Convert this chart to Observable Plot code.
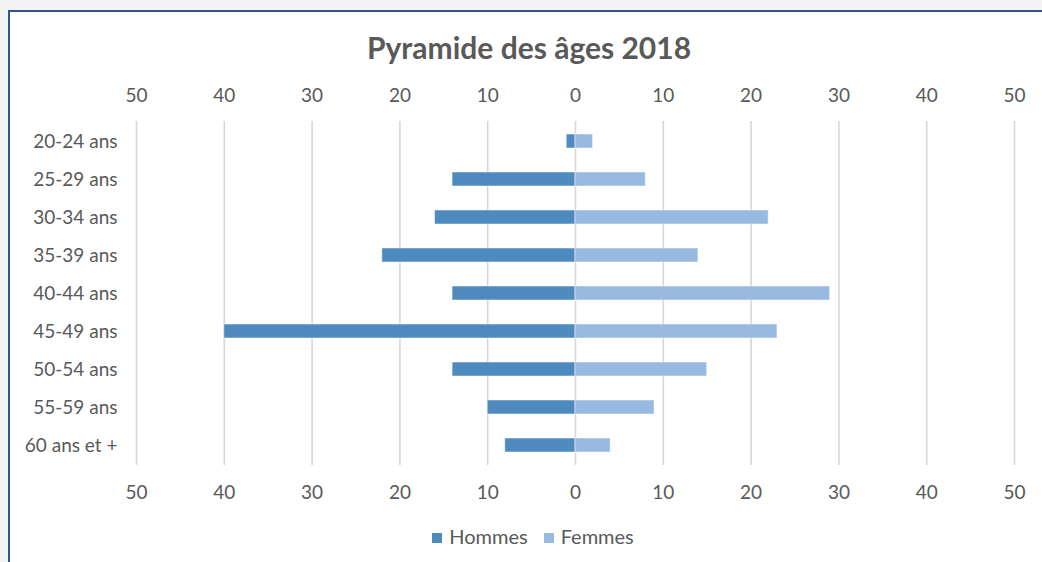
<!DOCTYPE html>
<html>
<head>
<meta charset="utf-8">
<script src="https://cdn.jsdelivr.net/npm/d3@7"></script>
<script src="https://cdn.jsdelivr.net/npm/@observablehq/plot@0.6"></script>
<style>
  html, body { margin: 0; padding: 0; }
  body { width: 1042px; height: 562px; background: #f3f3f3; position: relative; overflow: hidden; font-family: Lato, "Open Sans", sans-serif; }
  #frame { position: absolute; left: 8px; top: 10px; width: 1100px; height: 600px; background: #fff; border-left: 2px solid #2f5592; border-top: 2px solid #2f5592; }
  #title { position: absolute; left: 0; top: 29px; width: 1058px; text-align: center; font-size: 30px; font-weight: bold; color: #595959; line-height: 36px; }
  #chart { position: absolute; left: 0; top: 0; }
  #legend { position: absolute; left: 0; top: 524px; width: 1066px; text-align: center; font-size: 20px; color: #595959; line-height: 24px; }
  .sw { display: inline-block; width: 10px; height: 10px; margin-right: 7px; vertical-align: 1px; }
  .item { margin: 0 8px; }
</style>
</head>
<body>
<div id="frame"></div>
<div id="title">Pyramide des âges 2018</div>
<div id="chart"></div>
<div id="legend"></div>
<script>
const categories = ["20-24 ans", "25-29 ans", "30-34 ans", "35-39 ans", "40-44 ans", "45-49 ans", "50-54 ans", "55-59 ans", "60 ans et +"];
const hommes = [1, 14, 16, 22, 14, 40, 14, 10, 8];
const femmes = [2, 8, 22, 14, 29, 23, 15, 9, 4];
const seriesNames = ["Hommes", "Femmes"];
const seriesColors = ["#4f8abe", "#98b9e0"];
const xTicks = [-50, -40, -30, -20, -10, 0, 10, 20, 30, 40, 50];

const rows = [];
categories.forEach((c, i) => {
  rows.push({cat: c, serie: "Hommes", v: -hommes[i]});
  rows.push({cat: c, serie: "Femmes", v: femmes[i]});
});

const chart = Plot.plot({
  width: 1042,
  height: 520,
  marginLeft: 136,
  marginRight: 28,
  marginTop: 121,
  marginBottom: 55,
  style: {fontFamily: "Lato, 'Open Sans', sans-serif", background: "transparent", color: "#595959", overflow: "visible"},
  x: {domain: [-50, 50]},
  y: {domain: categories, paddingInner: 0.64, paddingOuter: 0.26},
  color: {domain: seriesNames, range: seriesColors},
  marks: [
    Plot.ruleX(xTicks, {stroke: "#d6d6d6", strokeWidth: 1.6}),
    Plot.barX(rows, {y: "cat", x1: 0, x2: "v", fill: "serie", stroke: "#ffffff", strokeOpacity: 0.5, strokeWidth: 1}),
    Plot.axisX({anchor: "top", ticks: xTicks, tickSize: 0, tickPadding: 20, tickFormat: d => Math.abs(d), fontSize: 19, label: null}),
    Plot.axisX({anchor: "bottom", ticks: xTicks, tickSize: 0, tickPadding: 20, tickFormat: d => Math.abs(d), fontSize: 19, label: null}),
    Plot.axisY({tickSize: 0, tickPadding: 19, fontSize: 19, label: null})
  ]
});
chart.querySelectorAll("text").forEach(t => t.setAttribute("fill", "#595959"));
document.getElementById("chart").appendChild(chart);

const legend = document.getElementById("legend");
seriesNames.forEach((n, i) => {
  const s = document.createElement("span");
  s.className = "item";
  s.innerHTML = `<span class="sw" style="background:${seriesColors[i]}"></span>${n}`;
  legend.appendChild(s);
});
</script>
</body>
</html>
